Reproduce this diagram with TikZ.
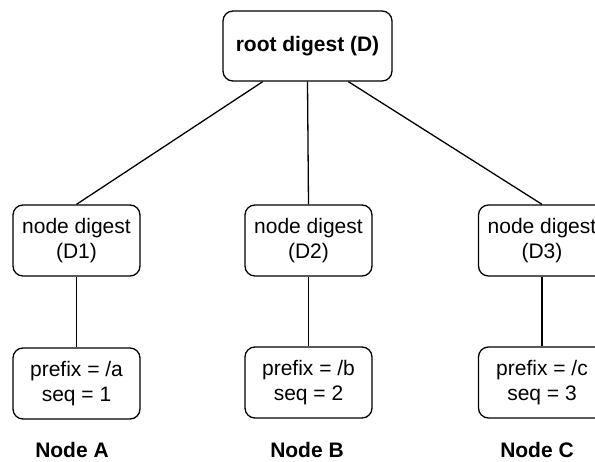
\documentclass[tikz,border=0pt]{standalone}
\usepackage{fontspec}
\setmainfont{Liberation Sans}
\usetikzlibrary{calc}
\begin{document}
\begin{tikzpicture}[x=1pt,y=-1pt,
  font=\fontsize{21}{25}\selectfont,
  box/.style={draw=black, line width=1.3pt, rounded corners=10pt, fill=white,
    align=center, inner sep=0pt, minimum width=127pt, minimum height=71pt},
  rootbox/.style={box, minimum width=169pt, minimum height=70pt, font=\fontsize{21}{25}\selectfont\bfseries},
  tag/.style={font=\fontsize{21}{25}\selectfont\bfseries, inner sep=0pt},
  link/.style={draw=black, line width=1.3pt}]
\useasboundingbox (0,0) rectangle (595,461);
\clip (0,0) rectangle (595,461);

% root of the tree
\node[rootbox] (root) at (307.5,46) {root digest (D)};

% per-node digests
\node[box] (d1) at (76.5,240.5) {node digest\\(D1)};
\node[box] (d2) at (308.5,240.5) {node digest\\(D2)};
\node[box] (d3) at (542,240.5) {node digest\\(D3)};

% leaf records
\node[box] (p1) at (76.5,383.5) {prefix = /a\\seq = 1};
\node[box] (p2) at (308.5,382.5) {prefix = /b\\seq = 2};
\node[box] (p3) at (542,382.5) {prefix = /c\\seq = 3};

% node names
\node[tag] (na) at (72,450) {Node A};
\node[tag] (nb) at (307,450) {Node B};
\node[tag] (nc) at (537,450) {Node C};

% tree edges
\coordinate (rl) at ($(root.south west)!0.237!(root.south east)$);
\coordinate (rr) at ($(root.south west)!0.74!(root.south east)$);
\path[link] (rl) -- (d1.north);
\path[link] (root.south) -- (d2.north);
\path[link] (rr) -- (d3.north);
\path[link] (d1.south) -- (p1.north);
\path[link] (d2.south) -- (p2.north);
\path[link] (d3.south) -- (p3.north);
\end{tikzpicture}
\end{document}
